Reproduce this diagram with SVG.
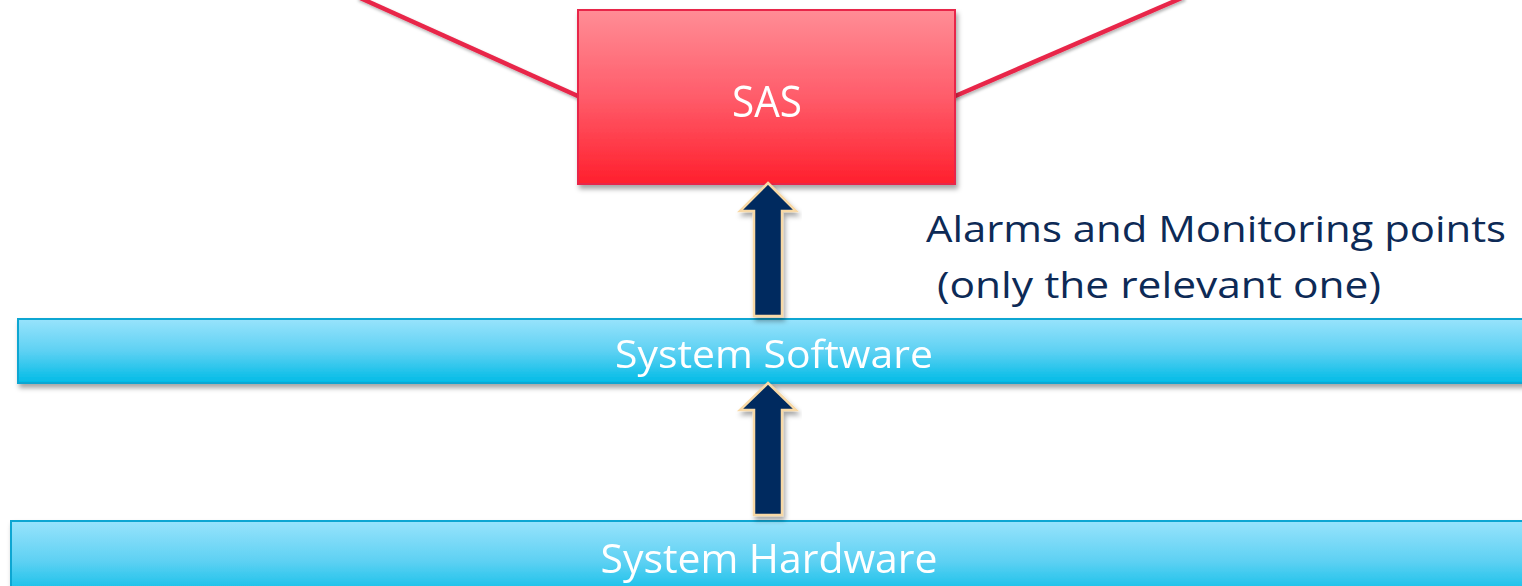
<svg xmlns="http://www.w3.org/2000/svg" width="1522" height="586" viewBox="0 0 1522 586">
  <defs>
    <linearGradient id="gradRed" x1="0" y1="0" x2="0" y2="1">
      <stop offset="0" stop-color="#FF8D96"/>
      <stop offset="0.5" stop-color="#FF5C6A"/>
      <stop offset="1" stop-color="#FF1F2D"/>
    </linearGradient>
    <linearGradient id="gradBlue" x1="0" y1="0" x2="0" y2="1">
      <stop offset="0" stop-color="#98E3FC"/>
      <stop offset="0.5" stop-color="#5ED1F3"/>
      <stop offset="1" stop-color="#00BBE6"/>
    </linearGradient>
    <filter id="shadow" x="-10%" y="-20%" width="120%" height="160%">
      <feDropShadow dx="2" dy="4" stdDeviation="2.5" flood-color="#000" flood-opacity="0.35"/>
    </filter>
    <filter id="lineShadow" x="-10%" y="-20%" width="120%" height="160%">
      <feDropShadow dx="1" dy="2" stdDeviation="1.5" flood-color="#000" flood-opacity="0.3"/>
    </filter>
    <style>
      .link { stroke: #E8264A; stroke-width: 4.5; fill: none; }
      .bar { fill: url(#gradBlue); stroke: #0AA6D2; stroke-width: 2; }
      .box { fill: url(#gradRed); stroke: #E8264A; stroke-width: 2; }
      .arrow { fill: #022B5E; stroke: #F8D9A6; stroke-width: 2.5; stroke-linejoin: miter; }
      .lbl { font-family: "Open Sans", "Noto Sans", "Liberation Sans", sans-serif; fill: #FFFFFF; text-anchor: middle; }
      .note { font-family: "Open Sans", "Noto Sans", "Liberation Sans", sans-serif; fill: #0D2A56; font-size: 36.5px; }
    </style>
  </defs>

  <rect width="1522" height="586" fill="#FFFFFF"/>

  <!-- connectors -->
  <g id="connectors" filter="url(#lineShadow)">
    <line class="link" x1="358" y1="-3" x2="580" y2="97"/>
    <line class="link" x1="953" y1="97" x2="1184" y2="-3"/>
  </g>

  <g id="node-sas" filter="url(#shadow)">
    <rect class="box" x="578" y="10" width="377" height="174"/>
    <text class="lbl" x="767" y="117" font-size="43" textLength="70" lengthAdjust="spacingAndGlyphs">SAS</text>
  </g>

  <g id="node-system-software" filter="url(#shadow)">
    <rect class="bar" x="18" y="319" width="1520" height="64"/>
    <text class="lbl" x="774" y="368" font-size="39" textLength="318" lengthAdjust="spacingAndGlyphs">System Software</text>
  </g>

  <g id="node-system-hardware" filter="url(#shadow)">
    <rect class="bar" x="11" y="521" width="1525" height="80"/>
    <text class="lbl" x="769" y="573" font-size="40" textLength="337" lengthAdjust="spacingAndGlyphs">System Hardware</text>
  </g>

  <!-- block arrows -->
  <g id="arrow-software-to-sas" filter="url(#shadow)">
    <polygon class="arrow" points="768,183 796,211 782,211 782,316 754,316 754,211 740,211"/>
  </g>
  <g id="arrow-hardware-to-software" filter="url(#shadow)">
    <polygon class="arrow" points="768,383 796,410 782,410 782,515 754,515 754,410 740,410"/>
  </g>

  <g id="label-alarms">
    <text class="note" x="926" y="242" textLength="580" lengthAdjust="spacingAndGlyphs">Alarms and Monitoring points</text>
    <text class="note" x="937" y="298" textLength="444" lengthAdjust="spacingAndGlyphs">(only the relevant one)</text>
  </g>
</svg>
